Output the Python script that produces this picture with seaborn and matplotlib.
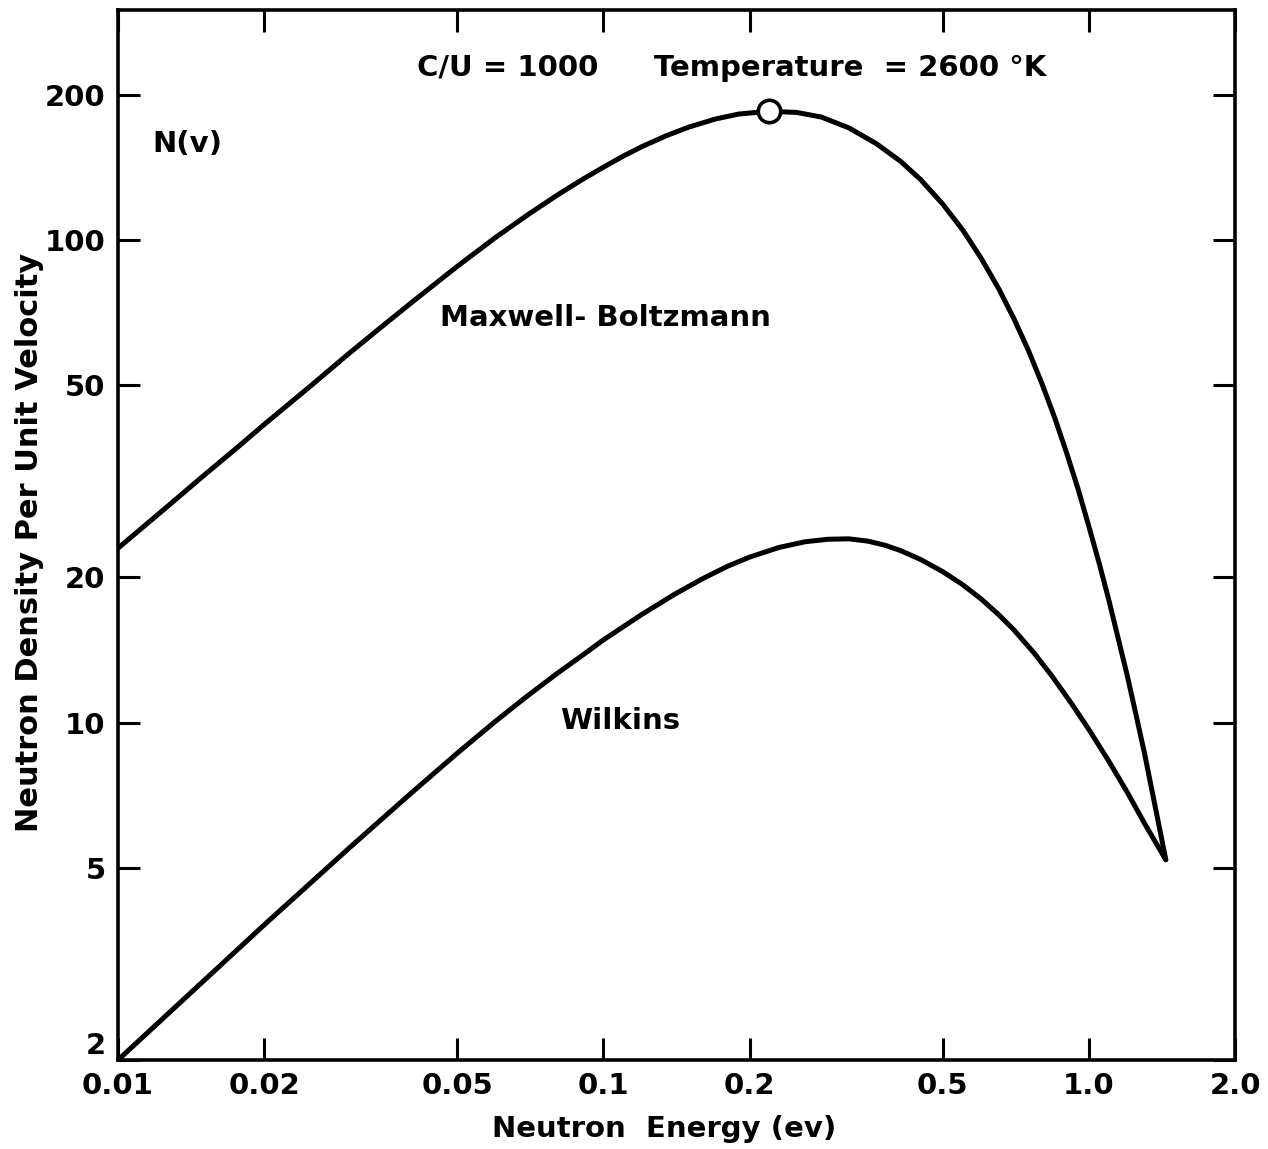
import matplotlib
matplotlib.use("Agg")
import matplotlib.pyplot as plt
import seaborn as sns
import pandas as pd

# Neutron energy (eV) and density per unit velocity, Maxwell-Boltzmann curve
mb_energy = [0.01, 0.0125, 0.015, 0.0175, 0.02, 0.025, 0.03, 0.035, 0.04, 0.045,
             0.05, 0.06, 0.07, 0.08, 0.09, 0.10, 0.11, 0.12, 0.135, 0.15,
             0.17, 0.19, 0.219, 0.25, 0.281, 0.32, 0.365, 0.41, 0.45, 0.5,
             0.55, 0.6, 0.653, 0.70, 0.75, 0.80, 0.85, 0.90, 0.95, 1.0,
             1.05, 1.10, 1.15, 1.20, 1.25, 1.30, 1.35, 1.40, 1.44]
mb_density = [23.0, 27.8, 32.5, 37.0, 41.5, 50.0, 58.4, 66.3, 73.9, 81.2,
               88.3, 101.4, 113.1, 123.7, 133.2, 141.7, 149.5, 156.3, 164.8, 171.6,
               178.3, 182.6, 185.0, 184.0, 180.0, 171.0, 158.5, 145.5, 133.6, 118.8,
               104.9, 91.7, 79.1, 68.9, 59.2, 50.5, 42.9, 36.2, 30.5, 25.5,
               21.4, 17.9, 14.9, 12.5, 10.4, 8.7, 7.2, 6.0, 5.2]

# Wilkins curve
wk_energy = [0.01, 0.02, 0.03, 0.04, 0.05, 0.06, 0.07, 0.08, 0.09, 0.10,
             0.12, 0.14, 0.16, 0.18, 0.20, 0.23, 0.26, 0.29, 0.32, 0.35,
             0.38, 0.41, 0.45, 0.50, 0.55, 0.60, 0.65, 0.70, 0.77, 0.84,
             0.92, 1.0, 1.1, 1.2, 1.3, 1.44]
wk_density = [2.0, 3.81, 5.51, 7.12, 8.65, 10.08, 11.40, 12.62, 13.74, 14.85,
              16.77, 18.45, 19.88, 21.09, 22.04, 23.08, 23.71, 24.0, 24.05, 23.79,
              23.33, 22.72, 21.79, 20.56, 19.31, 18.04, 16.79, 15.59, 13.97, 12.48,
              10.97, 9.68, 8.31, 7.17, 6.2, 5.2]

# Most probable point on the Maxwell-Boltzmann curve
peak_energy = [0.219]
peak_density = [185.0]

x_ticks = [0.01, 0.02, 0.05, 0.1, 0.2, 0.5, 1.0, 2.0]
x_tick_labels = ["0.01", "0.02", "0.05", "0.1", "0.2", "0.5", "1.0", "2.0"]
y_ticks = [2, 5, 10, 20, 50, 100, 200]
y_tick_labels = ["2", "5", "10", "20", "50", "100", "200"]

sns.set_theme(style="ticks")
plt.rcParams["font.family"] = ["DejaVu Sans"]
plt.rcParams["font.weight"] = "bold"
plt.rcParams["axes.labelcolor"] = "black"

mb = pd.DataFrame({"energy": mb_energy, "density": mb_density})
wk = pd.DataFrame({"energy": wk_energy, "density": wk_density})
pk = pd.DataFrame({"energy": peak_energy, "density": peak_density})

fig = plt.figure(figsize=(12.68, 11.49), dpi=100)
ax = fig.add_axes([0.0931, 0.0775, 0.9740 - 0.0931, 0.9913 - 0.0775])

line_kw = dict(color="black", linewidth=3.6, sort=False, estimator=None, ax=ax,
               solid_joinstyle="round", solid_capstyle="round")
sns.lineplot(data=mb, x="energy", y="density", **line_kw)
sns.lineplot(data=wk, x="energy", y="density", **line_kw)
sns.scatterplot(data=pk, x="energy", y="density", s=260, color="white",
                edgecolor="black", linewidth=2.6, zorder=5, ax=ax)

ax.set_xscale("log")
ax.set_yscale("log")
ax.set_xlim(0.01, 2.0)
ax.set_ylim(2, 300)

ax.set_xticks(x_ticks)
ax.set_xticklabels(x_tick_labels)
ax.set_yticks(y_ticks)
ax.set_yticklabels(y_tick_labels)
ax.minorticks_off()

ax.tick_params(axis="both", which="major", direction="in", length=16, width=2.2,
               top=True, right=True, labelsize=21, pad=9, color="black",
               labelcolor="black")
# the lowest y label sits just above the corner so it clears "0.01"
ax.get_yticklabels()[0].set_verticalalignment("bottom")

for sp in ax.spines.values():
    sp.set_linewidth(2.6)
    sp.set_color("black")
    sp.set_visible(True)

ax.set_xlabel("Neutron  Energy (ev)", fontsize=21, fontweight="bold",
              color="black")
ax.xaxis.set_label_coords(0.489, -0.052)
ax.set_ylabel("Neutron Density Per Unit Velocity", fontsize=22, fontweight="bold",
              color="black")
ax.yaxis.set_label_coords(-0.066, 0.493)

txt = dict(fontsize=21, fontweight="bold", color="black")
ax.text(0.0139, 158, "N(v)", ha="center", va="center", **txt)
ax.text(0.0635, 228, "C/U = 1000", ha="center", va="center", **txt)
ax.text(0.322, 228, "Temperature  = 2600 °K", ha="center", va="center", **txt)
ax.text(0.101, 69, "Maxwell- Boltzmann", ha="center", va="center", **txt)
ax.text(0.108, 10.1, "Wilkins", ha="center", va="center", **txt)

fig.savefig("out.png", dpi=100, facecolor="white")
